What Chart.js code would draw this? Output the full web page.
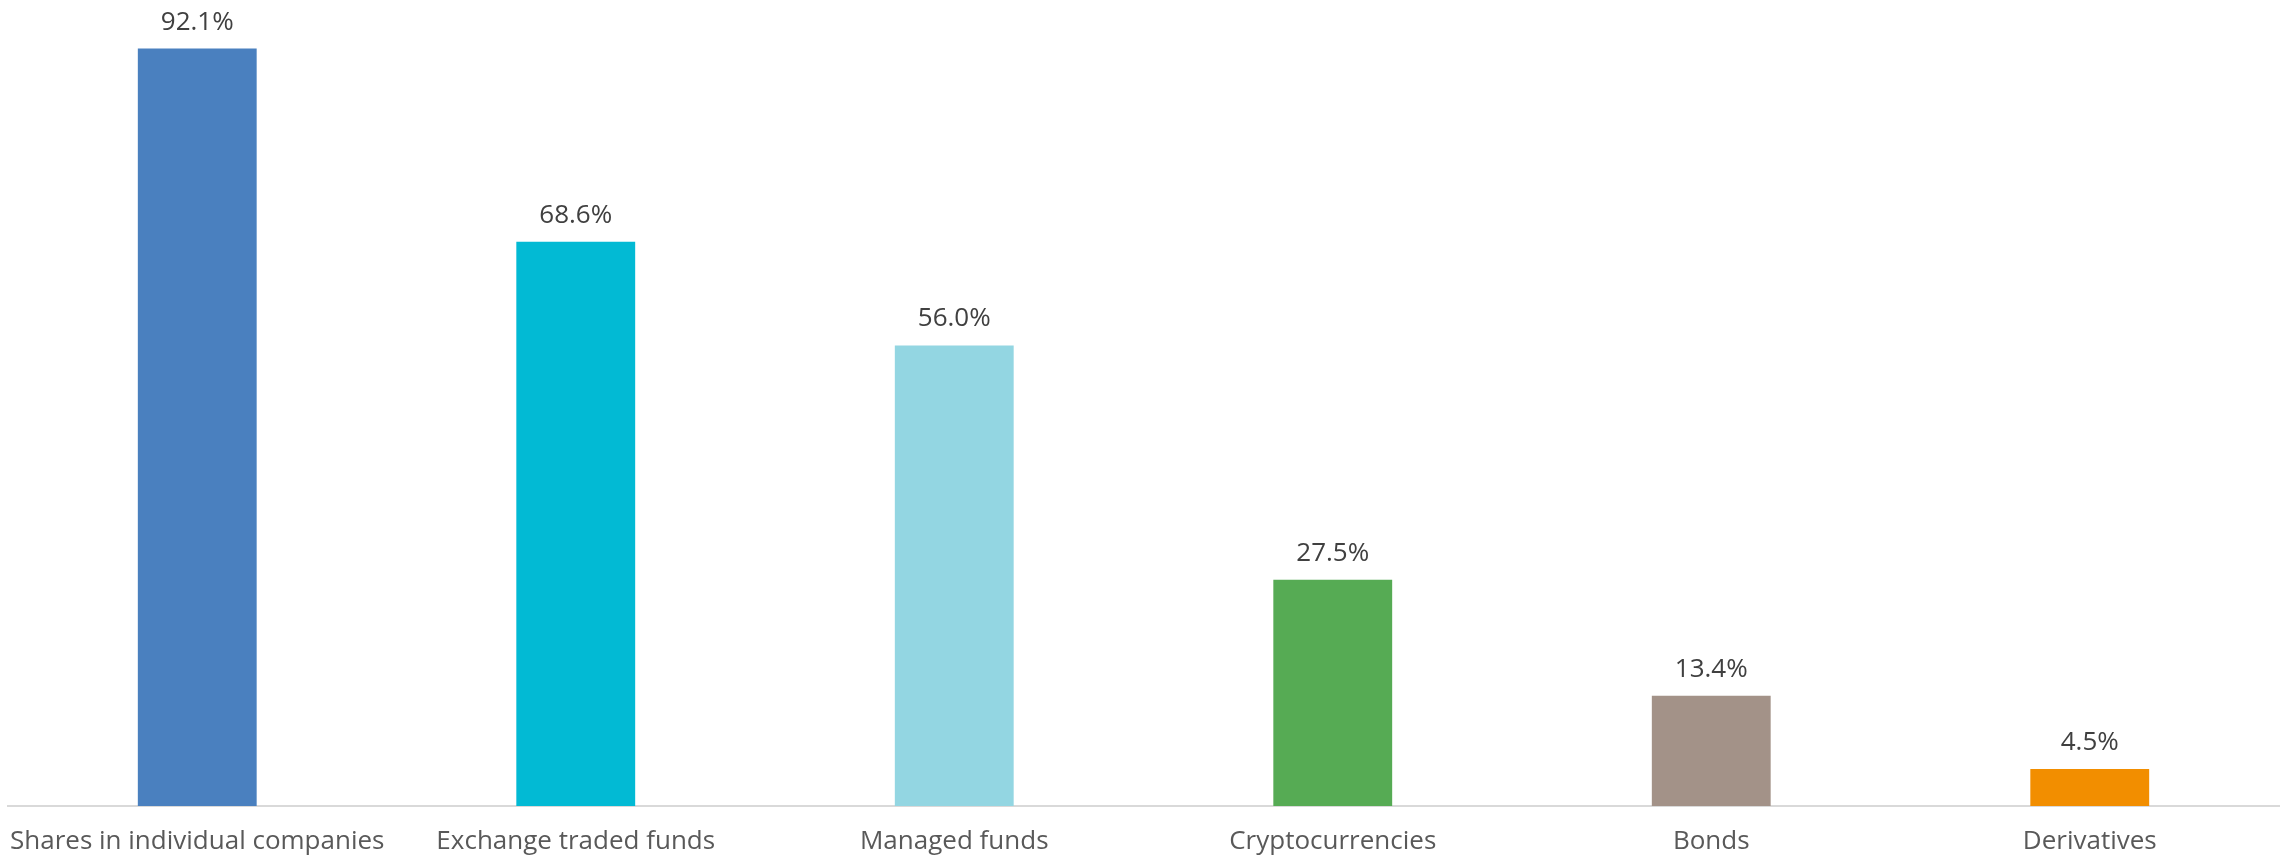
<!DOCTYPE html>
<html>
<head>
<meta charset="utf-8">
<title>Investment types held</title>
<script src="https://cdn.jsdelivr.net/npm/chart.js@4/dist/chart.umd.min.js"></script>
<style>
  html, body { margin: 0; padding: 0; background: #ffffff; }
  #wrap { width: 2280px; height: 859px; }
</style>
</head>
<body>
<div id="wrap"><canvas id="myChart" width="2280" height="859"></canvas></div>
<script>
// categories and values (% of respondents)
const categories = [
  'Shares in individual companies',
  'Exchange traded funds',
  'Managed funds',
  'Cryptocurrencies',
  'Bonds',
  'Derivatives'
];
const shares = [92.1, 68.6, 56.0, 27.5, 13.4, 4.5];
const barColours = ['#4a80bf', '#02bad4', '#93d6e2', '#56ab54', '#a39288', '#f28e00'];

const FONT = '"Open Sans", "DejaVu Sans", sans-serif';

// draws "xx.x%" above every bar
const valueLabels = {
  id: 'valueLabels',
  afterDatasetsDraw(chart) {
    const ctx = chart.ctx;
    const meta = chart.getDatasetMeta(0);
    ctx.save();
    ctx.font = '26px ' + FONT;
    ctx.fillStyle = '#404040';
    ctx.textAlign = 'center';
    ctx.textBaseline = 'alphabetic';
    meta.data.forEach(function(bar, i) {
      ctx.fillText(shares[i].toFixed(1) + '%', bar.x, bar.y - 19);
    });
    ctx.restore();
  }
};

function drawChart(labels, data) {
  let ctx = document.getElementById('myChart').getContext('2d');
  let chart = new Chart(ctx, {
    type: 'bar',
    data: {
      labels: labels,
      datasets: [{
        data: data,
        backgroundColor: barColours,
        borderWidth: 0,
        barPercentage: 0.314,
        categoryPercentage: 1.0
      }]
    },
    options: {
      responsive: false,
      animation: false,
      layout: { padding: { left: 8, right: 1, top: 0, bottom: 0 } },
      plugins: {
        legend: { display: false },
        tooltip: { enabled: false }
      },
      scales: {
        x: {
          // gap between axis line and labels comes from the (hidden) tick length
          grid: { display: false, drawTicks: true, tickLength: 20 },
          border: { display: true, color: '#d9d9d9', width: 2 },
          ticks: {
            color: '#595959',
            font: { family: FONT, size: 26 },
            padding: 0,
            maxRotation: 0,
            autoSkip: false
          },
          afterFit: function(scale) {
            scale.height = 53;
          }
        },
        y: {
          display: false,
          min: 0,
          max: 98
        }
      }
    },
    plugins: [valueLabels]
  });
  return chart;
}

drawChart(categories, shares);
</script>
</body>
</html>
